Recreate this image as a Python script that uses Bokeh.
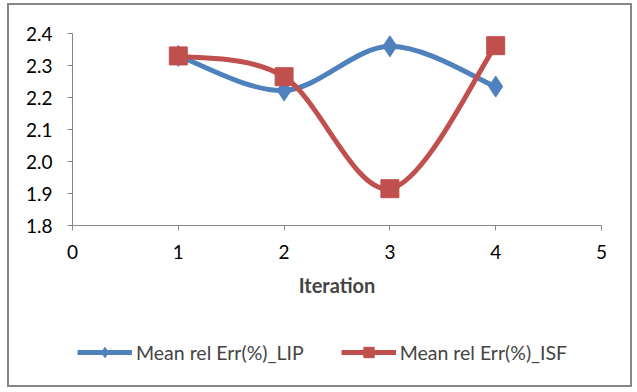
from bokeh.plotting import figure
from bokeh.models import (Range1d, FixedTicker, Legend, LegendItem,
                          ColumnDataSource, CustomJSTickFormatter)
from bokeh.embed import file_html
from bokeh.resources import INLINE

iterations = [1, 2, 3, 4]
lip = [2.33, 2.222, 2.36, 2.234]
isf = [2.33, 2.265, 1.915, 2.362]
x_ticks = [0, 1, 2, 3, 4, 5]
y_ticks = [1.8, 1.9, 2.0, 2.1, 2.2, 2.3, 2.4]
label_lip = "Mean rel Err(%)_LIP"
label_isf = "Mean rel Err(%)_ISF"

BLUE = "#4F81BD"
RED = "#C0504D"
GRAY = "#868686"
FONT = "Lato"

X_MIN, X_MAX = 0, 5
Y_MIN, Y_MAX = 1.8, 2.4

# canvas size and where the axis box sits inside it (pixels)
CW, CH = 625, 384
AX_L, AX_R, AX_T, AX_B = 63, 592, 28, 220
sx = (AX_R - AX_L) / (X_MAX - X_MIN)
sy = (AX_B - AX_T) / (Y_MAX - Y_MIN)
# the frame covers the whole canvas; axes are placed at fixed locations
x_range = Range1d(X_MIN - AX_L / sx, X_MAX + (CW - AX_R) / sx)
y_range = Range1d(Y_MIN - (CH - AX_B) / sy, Y_MAX + AX_T / sy)


def smooth_segments(xs, ys):
    # Excel-style smoothed line: Catmull-Rom converted to cubic Bezier segments
    n = len(xs)
    d = dict(x0=[], y0=[], x1=[], y1=[], cx0=[], cy0=[], cx1=[], cy1=[])
    for i in range(n - 1):
        im = max(i - 1, 0)
        ip2 = min(i + 2, n - 1)
        d["x0"].append(xs[i]); d["y0"].append(ys[i])
        d["x1"].append(xs[i + 1]); d["y1"].append(ys[i + 1])
        d["cx0"].append(xs[i] + (xs[i + 1] - xs[im]) / 6)
        d["cy0"].append(ys[i] + (ys[i + 1] - ys[im]) / 6)
        d["cx1"].append(xs[i + 1] - (xs[ip2] - xs[i]) / 6)
        d["cy1"].append(ys[i + 1] - (ys[ip2] - ys[i]) / 6)
    return ColumnDataSource(d)


p = figure(width=CW, height=CH, margin=(3, 0, 0, 7),
           styles={"border": "2px solid #868686"},
           output_backend="svg", toolbar_location=None,
           x_range=x_range, y_range=y_range,
           min_border_left=0, min_border_right=0, min_border_top=0,
           min_border_bottom=0)
p.xgrid.visible = False
p.ygrid.visible = False
p.outline_line_color = None

for ax in (p.xaxis[0], p.yaxis[0]):
    ax.axis_line_color = GRAY
    ax.major_tick_line_color = GRAY
    ax.major_tick_out = 5
    ax.major_tick_in = 0
    ax.minor_tick_line_color = None
    ax.major_label_text_font = FONT
    ax.major_label_text_font_size = "19px"
    ax.major_label_text_color = "#000000"

p.xaxis.ticker = FixedTicker(ticks=x_ticks)
p.xaxis.fixed_location = Y_MIN
p.xaxis.bounds = (X_MIN, X_MAX)
p.yaxis.ticker = FixedTicker(ticks=y_ticks)
p.yaxis.fixed_location = X_MIN
p.yaxis.bounds = (Y_MIN, Y_MAX)
p.yaxis.formatter = CustomJSTickFormatter(code="return tick.toFixed(1);")
p.yaxis.major_label_standoff = 15
p.xaxis.major_label_standoff = 14
p.xaxis.axis_label = "Iteration"
p.xaxis.axis_label_text_font = FONT
p.xaxis.axis_label_text_font_style = "bold"
p.xaxis.axis_label_text_font_size = "20px"
p.xaxis.axis_label_standoff = 11

r_lip_line = p.bezier(x0="x0", y0="y0", x1="x1", y1="y1", cx0="cx0", cy0="cy0",
                      cx1="cx1", cy1="cy1", source=smooth_segments(iterations, lip),
                      line_color=BLUE, line_width=5)
r_isf_line = p.bezier(x0="x0", y0="y0", x1="x1", y1="y1", cx0="cx0", cy0="cy0",
                      cx1="cx1", cy1="cy1", source=smooth_segments(iterations, isf),
                      line_color=RED, line_width=5)
r_lip_pts = p.scatter(iterations, lip, marker="diamond", size=21, color=BLUE)
r_isf_pts = p.scatter(iterations, isf, marker="square", size=18, color=RED)

legend = Legend(items=[LegendItem(label=label_lip, renderers=[r_lip_line, r_lip_pts]),
                       LegendItem(label=label_isf, renderers=[r_isf_line, r_isf_pts])],
                orientation="horizontal", location=(AX_L + 5, 24),
                glyph_width=55, glyph_height=26, label_standoff=4, spacing=37,
                label_text_font=FONT, label_text_font_size="19.5px",
                border_line_color=None, background_fill_alpha=0, padding=0, margin=0)
p.add_layout(legend, "center")

open("out.html", "w").write(file_html(p, INLINE))
